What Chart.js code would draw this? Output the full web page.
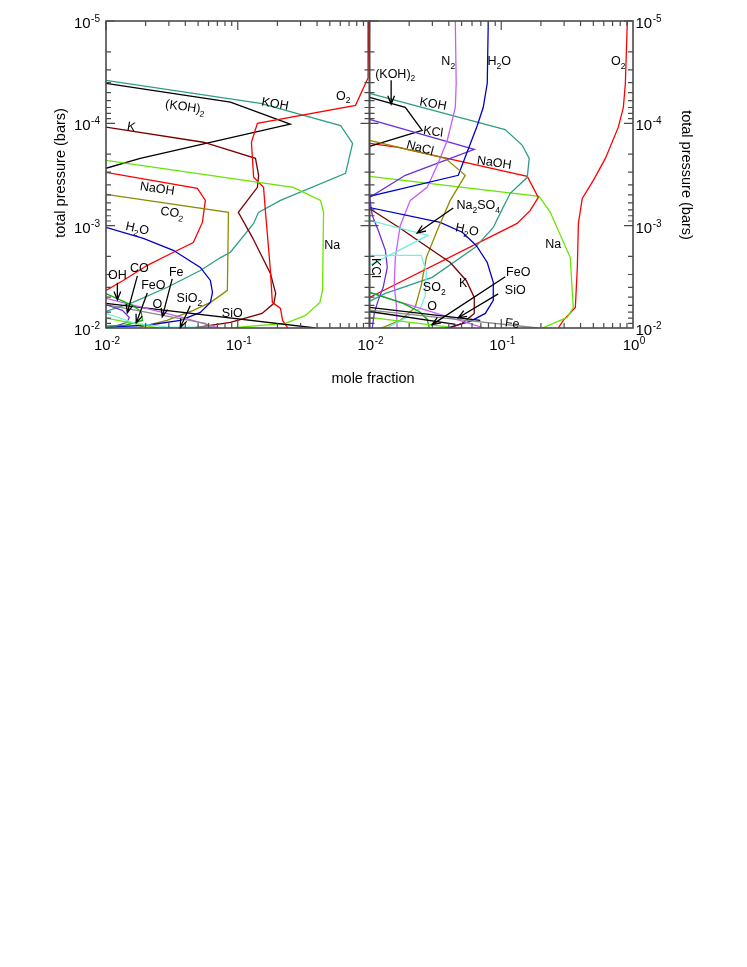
<!DOCTYPE html>
<html>
<head>
<meta charset="utf-8">
<script src="https://cdn.jsdelivr.net/npm/chart.js@4.4.1/dist/chart.umd.min.js"></script>
<style>
html,body{margin:0;padding:0;background:#fff;}
#wrap{position:relative;width:747px;height:967px;background:#fff;}
canvas{position:absolute;left:0;top:0;}
</style>
</head>
<body>
<div id="wrap">
<canvas id="cL" width="747" height="400" style="width:747px;height:400px"></canvas>
<canvas id="cR" width="747" height="400" style="width:747px;height:400px"></canvas>
</div>
<script>
// ---------- axis ranges / tick labels ----------
const X_RANGE = [0.01, 1];
const P_RANGE = [1e-5, 1e-2];
const X_TICK_EXP_LEFT = [-2, -1];
const X_TICK_EXP_RIGHT = [-2, -1, 0];
const Y_TICK_EXP = [-5, -4, -3, -2];
const X_TITLE = 'mole fraction';
const Y_TITLE = 'total pressure (bars)';

// ---------- LEFT PANEL series: [mole fraction, pressure (bars)] ----------
const L_KOH  = [[0.01,3.8e-5],[0.149,6.37e-5],[0.603,1.05e-4],[0.744,1.57e-4],[0.658,3.08e-4],[0.211,5.66e-4],[0.1437,7.41e-4],[0.132,9.5e-4],[0.088,1.82e-3],[0.074,2.05e-3],[0.052,2.74e-3],[0.0292,4.0e-3],[0.016,5.62e-3],[0.01,6.9e-3]];
const L_KOH2 = [[0.01,4.06e-5],[0.088,6.2e-5],[0.25,1.02e-4],[0.0182,2.2e-4],[0.01,2.75e-4]];
const L_K    = [[0.01,1.09e-4],[0.0549,1.53e-4],[0.1363,2.2e-4],[0.144,3.22e-4],[0.141,4.22e-4],[0.101,7.41e-4],[0.129,1.3e-3],[0.177,2.93e-3],[0.194,4.59e-3],[0.188,5.74e-3],[0.153,7.2e-3],[0.088,8.81e-3],[0.046,1e-2]];
const L_O2   = [[0.986,1e-5],[0.975,3.6e-5],[0.783,6.67e-5],[0.141,1.0e-4],[0.127,1.53e-4],[0.132,3.37e-4],[0.157,4.22e-4],[0.162,7.09e-4],[0.177,2.74e-3],[0.183,5.62e-3],[0.211,6.43e-3],[0.219,8.43e-3],[0.24,1e-2]];
const L_NA   = [[0.01,2.3e-4],[0.265,4.22e-4],[0.425,5.66e-4],[0.448,7.41e-4],[0.44,4.29e-3],[0.42,5.62e-3],[0.327,7.54e-3],[0.23,9.0e-3],[0.088,1e-2]];
const L_NAOH = [[0.01,3.01e-4],[0.0494,4.32e-4],[0.0568,5.66e-4],[0.0539,9.3e-4],[0.046,1.46e-3],[0.0325,1.82e-3],[0.0206,2.44e-3],[0.0135,3.43e-3],[0.01,4.29e-3]];
const L_CO2  = [[0.01,4.94e-4],[0.085,7.41e-4],[0.0834,4.29e-3],[0.074,4.8e-3],[0.062,5.62e-3],[0.046,6.73e-3],[0.029,8.43e-3],[0.018,9.8e-3]];
const L_H2O  = [[0.01,1.04e-3],[0.0192,1.33e-3],[0.0324,1.74e-3],[0.052,2.56e-3],[0.062,3.43e-3],[0.0643,4.49e-3],[0.062,5.62e-3],[0.052,7.05e-3],[0.0367,8.43e-3],[0.0206,9.4e-3],[0.01,9.8e-3]];
const L_SIO  = [[0.01,5.74e-3],[0.388,1e-2]];
const L_OH   = [[0.01,4.6e-3],[0.0158,6.0e-3],[0.0185,6.9e-3],[0.0189,8.43e-3],[0.014,9.4e-3],[0.01,9.6e-3]];
const L_CO   = [[0.01,5.9e-3],[0.0133,6.73e-3],[0.015,7.88e-3],[0.0145,8.8e-3],[0.0112,9.8e-3],[0.01,1e-2]];
const L_FE   = [[0.01,5.14e-3],[0.0379,7.88e-3],[0.0724,1e-2]];
const L_SIO2 = [[0.01,7.2e-3],[0.0167,9.0e-3],[0.0302,9.8e-3],[0.0566,9.8e-3],[0.062,1e-2]];
const L_FEO  = [[0.01,5.9e-3],[0.0566,9.0e-3],[0.065,1e-2]];
const L_O    = [[0.01,8.0e-3],[0.02,9.5e-3],[0.025,1e-2]];

// ---------- RIGHT PANEL series ----------
const R_O2    = [[0.906,1e-5],[0.875,4.06e-5],[0.845,6.97e-5],[0.774,1.09e-4],[0.617,2.2e-4],[0.5,3.61e-4],[0.412,5.41e-4],[0.385,9.5e-4],[0.378,2.56e-3],[0.365,6.3e-3],[0.2955,8.43e-3],[0.271,1e-2]];
const R_NA    = [[0.01,3.3e-4],[0.194,5.17e-4],[0.2356,7.41e-4],[0.334,2.05e-3],[0.352,6.3e-3],[0.317,7.88e-3],[0.2047,1e-2]];
const R_NAOH  = [[0.01,1.57e-4],[0.0165,1.72e-4],[0.1575,3.3e-4],[0.191,5.3e-4],[0.166,7.09e-4],[0.132,9.5e-4],[0.01,5.03e-3]];
const R_KOH   = [[0.01,5.09e-5],[0.107,1.15e-4],[0.144,1.63e-4],[0.163,2.2e-4],[0.1575,3.37e-4],[0.117,4.83e-4],[0.098,7.59e-4],[0.087,1.04e-3],[0.0635,1.63e-3],[0.0299,3.2e-3],[0.0132,4.59e-3],[0.01,5.5e-3]];
const R_KOH2  = [[0.01,5.57e-5],[0.0187,6.97e-5],[0.0251,1.17e-4],[0.01,1.68e-4]];
const R_KCL   = [[0.01,9.14e-5],[0.0624,1.8e-4],[0.0187,3.22e-4],[0.01,5.3e-4],[0.0105,7.94e-4],[0.01164,1.11e-3],[0.0132,1.74e-3],[0.01365,2.56e-3],[0.0127,4.0e-3],[0.01164,5.37e-3],[0.01086,7.2e-3],[0.0105,1e-2]];
const R_N2    = [[0.0448,1e-5],[0.0455,4.06e-5],[0.0448,6.97e-5],[0.0389,1.47e-4],[0.0332,2.46e-4],[0.0274,4.22e-4],[0.0204,5.66e-4],[0.0171,1e-3],[0.0157,2.05e-3],[0.0154,3.83e-3],[0.016,6.0e-3],[0.0162,1e-2]];
const R_H2O   = [[0.0797,1e-5],[0.0783,4.06e-5],[0.073,6.97e-5],[0.0658,1.05e-4],[0.0472,3.22e-4],[0.01,5.17e-4],[0.01,6.65e-4],[0.0344,9.3e-4],[0.0506,1.16e-3],[0.0646,1.56e-3],[0.0783,2.29e-3],[0.087,3.58e-3],[0.087,5.37e-3],[0.0757,7.2e-3],[0.0582,8.6e-3],[0.041,9.8e-3],[0.0376,1e-2]];
const R_NACL  = [[0.01,1.47e-4],[0.0376,2.2e-4],[0.0533,3.22e-4],[0.041,5.66e-4],[0.0327,1.11e-3],[0.027,2.05e-3],[0.0247,3.83e-3],[0.0222,6.3e-3],[0.0171,8.43e-3],[0.01227,1e-2]];
const R_NA2SO4= [[0.01,8.88e-4],[0.0279,1.245e-3],[0.01,2.44e-3]];
const R_SO2   = [[0.01,1.95e-3],[0.0247,1.95e-3],[0.027,2.86e-3],[0.0265,4.8e-3],[0.0243,6.43e-3],[0.0174,8.43e-3],[0.0134,1e-2]];
const R_K     = [[0.01,6.8e-4],[0.0171,1.06e-3],[0.0265,1.56e-3],[0.041,2.29e-3],[0.0542,3.43e-3],[0.0624,5.03e-3],[0.0624,7.2e-3],[0.0506,9.0e-3],[0.0403,1e-2]];
const R_OX    = [[0.01,4.5e-3],[0.0743,1e-2]];
const R_O     = [[0.01,4.45e-3],[0.018,5.74e-3],[0.0238,6.9e-3],[0.0274,8.2e-3],[0.0284,1e-2]];
const R_SIO   = [[0.01,6.3e-3],[0.0693,8.43e-3]];
const R_FEO   = [[0.01,6.9e-3],[0.045,9.2e-3]];
const R_FE    = [[0.01,6.7e-3],[0.19,1e-2]];
const R_LOW   = [[0.01,7.88e-3],[0.0403,9.8e-3]];

// ---------- in-plot labels and arrows (data coordinates) ----------
const L_LABELS = [
  {t:'(KOH)_2', x:0.04, y:6.8e-5, r:8},
  {t:'KOH', x:0.1925, y:6.35e-5, r:10},
  {t:'O_2', x:0.631, y:5.31e-5, r:0},
  {t:'K', x:0.01556, y:1.065e-4, r:10},
  {t:'NaOH', x:0.0245, y:4.29e-4, r:8},
  {t:'CO_2', x:0.0318, y:7.35e-4, r:8},
  {t:'H_2O', x:0.0173, y:1.05e-3, r:12},
  {t:'Na', x:0.521, y:1.54e-3, r:0},
  {t:'OH', x:0.0122, y:3.03e-3, r:0},
  {t:'CO', x:0.0179, y:2.59e-3, r:0},
  {t:'FeO', x:0.02286, y:3.79e-3, r:0},
  {t:'Fe', x:0.03415, y:2.83e-3, r:0},
  {t:'O', x:0.0245, y:5.81e-3, r:0},
  {t:'SiO_2', x:0.0429, y:5.08e-3, r:0},
  {t:'SiO', x:0.0908, y:7.11e-3, r:0}
];
const L_ARROWS = [
  [[0.0122,3.62e-3],[0.0122,5.31e-3]],
  [[0.0173,3.1e-3],[0.01451,7.11e-3]],
  [[0.02058,4.54e-3],[0.01698,8.9e-3]],
  [[0.0318,3.31e-3],[0.02675,7.78e-3]],
  [[0.0436,6.07e-3],[0.0366,9.9e-3]]
];
const R_LABELS = [
  {t:'N_2', x:0.0396, y:2.42e-5, r:0},
  {t:'H_2O', x:0.0966, y:2.42e-5, r:0},
  {t:'O_2', x:0.773, y:2.42e-5, r:0},
  {t:'(KOH)_2', x:0.01567, y:3.24e-5, r:0},
  {t:'KOH', x:0.03046, y:6.35e-5, r:10},
  {t:'KCl', x:0.03046, y:1.19e-4, r:8},
  {t:'NaCl', x:0.02427, y:1.71e-4, r:15},
  {t:'NaOH', x:0.0885, y:2.39e-4, r:8},
  {t:'Na_2SO_4', x:0.0669, y:6.28e-4, r:0},
  {t:'H_2O', x:0.0552, y:1.08e-3, r:12},
  {t:'Na', x:0.248, y:1.51e-3, r:0},
  {t:'KCl', x:0.01124, y:2.59e-3, r:90},
  {t:'SO_2', x:0.031, y:3.96e-3, r:0},
  {t:'K', x:0.0514, y:3.62e-3, r:0},
  {t:'O', x:0.0299, y:6.07e-3, r:0},
  {t:'FeO', x:0.1346, y:2.83e-3, r:0},
  {t:'SiO', x:0.1277, y:4.24e-3, r:0},
  {t:'Fe', x:0.1212, y:8.9e-3, r:8}
];
const R_ARROWS = [
  [[0.0146,3.79e-5],[0.0146,6.5e-5]],
  [[0.0432,6.72e-4],[0.02302,1.18e-3]],
  [[0.1073,3.16e-3],[0.0299,9.27e-3]],
  [[0.0948,4.64e-3],[0.0472,7.95e-3]]
];

// ---------- styling ----------
const FONT = '"Liberation Sans", Arial, Helvetica, sans-serif';
const C = {red:'#ff0000', teal:'#2e9e86', black:'#000000', maroon:'#7a0000', lime:'#66e600',
  olive:'#8c8c00', blue:'#0000cc', violet:'#6a2de0', magenta:'#c95cff', cyan:'#70f0e0',
  green:'#00b400', gray:'#8a8a8a'};
const FRAME = '#4a4a4a';

function ds(label, pts, color){
  return {label, data: pts.map(p => ({x:p[0], y:p[1]})), borderColor: color, backgroundColor: color,
    borderWidth: 1.3, pointRadius: 0, pointHoverRadius: 0, showLine: true, fill: false, tension: 0};
}

function drawRich(ctx, text, x, y, size, rot){
  const segs = [];
  let i = 0;
  while (i < text.length){
    if (text[i] === '_'){ segs.push({t:text[i+1], sub:true}); i += 2; }
    else { let j = i; while (j < text.length && text[j] !== '_') j++; segs.push({t:text.slice(i,j), sub:false}); i = j; }
  }
  const sub = size * 0.68;
  let w = 0;
  segs.forEach(s => { ctx.font = (s.sub ? sub : size) + 'px ' + FONT; s.w = ctx.measureText(s.t).width; w += s.w; });
  ctx.save();
  ctx.translate(x, y);
  ctx.rotate((rot || 0) * Math.PI / 180);
  ctx.fillStyle = '#000';
  ctx.textBaseline = 'alphabetic';
  ctx.textAlign = 'left';
  let cx = -w / 2;
  const base = size * 0.36;
  segs.forEach(s => {
    ctx.font = (s.sub ? sub : size) + 'px ' + FONT;
    ctx.fillText(s.t, cx, s.sub ? base + size * 0.3 : base);
    cx += s.w;
  });
  ctx.restore();
}

// "10" with a raised exponent; align: 'left' | 'right' | 'center'
function drawPow(ctx, exp, x, baseY, align){
  const big = '15px ' + FONT, small = '10px ' + FONT;
  ctx.font = big; const w1 = ctx.measureText('10').width;
  ctx.font = small; const w2 = ctx.measureText(String(exp)).width;
  const w = w1 + 0.5 + w2;
  let x0 = align === 'right' ? x - w : (align === 'center' ? x - w / 2 : x);
  ctx.textAlign = 'left'; ctx.textBaseline = 'alphabetic'; ctx.fillStyle = '#000';
  ctx.font = big; ctx.fillText('10', x0, baseY);
  ctx.font = small; ctx.fillText(String(exp), x0 + w1 + 0.5, baseY - 6);
}

function drawArrow(ctx, x1, y1, x2, y2){
  const a = Math.atan2(y2 - y1, x2 - x1), L = 9, h = 0.38;
  ctx.beginPath();
  ctx.moveTo(x1, y1); ctx.lineTo(x2, y2);
  ctx.moveTo(x2 - L * Math.cos(a - h), y2 - L * Math.sin(a - h));
  ctx.lineTo(x2, y2);
  ctx.lineTo(x2 - L * Math.cos(a + h), y2 - L * Math.sin(a + h));
  ctx.stroke();
}

function panelPlugin(cfg){
  return {
    id: 'panelDecor',
    afterDatasetsDraw(chart){
      const {ctx, chartArea: a, scales: {x, y}} = chart;
      ctx.save();
      // inward ticks
      ctx.strokeStyle = FRAME; ctx.lineWidth = 1.2;
      ctx.beginPath();
      for (let e = -2; e < 0; e++){
        for (let m = 1; m <= 9; m++){
          const px = x.getPixelForValue(m * Math.pow(10, e));
          const len = (m === 1) ? 9 : 5;
          ctx.moveTo(px, a.bottom); ctx.lineTo(px, a.bottom - len);
          ctx.moveTo(px, a.top); ctx.lineTo(px, a.top + len);
        }
      }
      for (let e = -5; e < -2; e++){
        for (let m = 1; m <= 9; m++){
          const py = y.getPixelForValue(m * Math.pow(10, e));
          const len = (m === 1) ? 9 : 5;
          ctx.moveTo(a.left, py); ctx.lineTo(a.left + len, py);
          ctx.moveTo(a.right, py); ctx.lineTo(a.right - len, py);
        }
      }
      ctx.stroke();
      ctx.lineWidth = 1.6;
      ctx.strokeRect(a.left, a.top, a.right - a.left, a.bottom - a.top);
      // tick labels
      cfg.xExp.forEach(e => drawPow(ctx, e, x.getPixelForValue(Math.pow(10, e)) + 1, a.bottom + 22, 'center'));
      cfg.yExp.forEach(e => {
        const py = y.getPixelForValue(Math.pow(10, e)) + 7;
        if (cfg.yPos === 'left') drawPow(ctx, e, a.left - 6, py, 'right');
        else drawPow(ctx, e, a.right + 2.5, py, 'left');
      });
      // arrows
      ctx.strokeStyle = '#000'; ctx.lineWidth = 1.3;
      cfg.arrows.forEach(ar => drawArrow(ctx,
        x.getPixelForValue(ar[0][0]), y.getPixelForValue(ar[0][1]),
        x.getPixelForValue(ar[1][0]), y.getPixelForValue(ar[1][1])));
      // labels
      cfg.labels.forEach(l => drawRich(ctx, l.t, x.getPixelForValue(l.x), y.getPixelForValue(l.y), 12.5, l.r));
      ctx.restore();
      if (cfg.extra) cfg.extra(chart);
    }
  };
}

function xScale(){
  return {
    type: 'logarithmic', position: 'bottom', min: X_RANGE[0], max: X_RANGE[1],
    grid: {display: false, drawTicks: false}, border: {display: false},
    ticks: {display: false},
    afterFit: (s) => { s.height = 40; }
  };
}
function yScale(pos, w){
  return {
    type: 'logarithmic', position: pos, min: P_RANGE[0], max: P_RANGE[1], reverse: true,
    grid: {display: false, drawTicks: false}, border: {display: false},
    ticks: {display: false},
    afterFit: (s) => { s.width = w; }
  };
}

function titleText(ctx, text, x, y, rot){
  ctx.save();
  ctx.translate(x, y); ctx.rotate(rot);
  ctx.font = '14.5px ' + FONT; ctx.fillStyle = '#000';
  ctx.textAlign = 'center'; ctx.textBaseline = 'middle';
  ctx.fillText(text, 0, 0);
  ctx.restore();
}

const leftDatasets = [
  ds('FeO', L_FEO, C.gray), ds('SiO2', L_SIO2, C.cyan), ds('O', L_O, C.lime), ds('OH', L_OH, C.green),
  ds('Fe', L_FE, C.magenta), ds('CO', L_CO, C.violet), ds('SiO', L_SIO, C.black),
  ds('H2O', L_H2O, C.blue), ds('CO2', L_CO2, C.olive), ds('NaOH', L_NAOH, C.red), ds('Na', L_NA, C.lime),
  ds('O2', L_O2, C.red), ds('K', L_K, C.maroon), ds('(KOH)2', L_KOH2, C.black), ds('KOH', L_KOH, C.teal)
];
const rightDatasets = [
  ds('Fe', R_FE, C.gray), ds('lower', R_LOW, C.lime), ds('FeO', R_FEO, C.black), ds('SiO', R_SIO, C.black),
  ds('O', R_O, C.green), ds('Ox', R_OX, C.magenta), ds('SO2', R_SO2, C.cyan), ds('Na2SO4', R_NA2SO4, C.cyan),
  ds('K', R_K, C.maroon), ds('NaCl', R_NACL, C.olive), ds('H2O', R_H2O, C.blue), ds('N2', R_N2, C.magenta),
  ds('KCl', R_KCL, C.violet), ds('(KOH)2', R_KOH2, C.black), ds('KOH', R_KOH, C.teal),
  ds('NaOH', R_NAOH, C.red), ds('Na', R_NA, C.lime), ds('O2', R_O2, C.red)
];

const common = {
  responsive: false, animation: false, events: [],
  plugins: {legend: {display: false}, tooltip: {enabled: false}}
};

new Chart(document.getElementById('cL'), {
  type: 'scatter',
  data: {datasets: leftDatasets},
  options: Object.assign({}, common, {
    layout: {padding: {left: 0, right: 377.5, top: 21, bottom: 32}},
    scales: {x: xScale(), y: yScale('left', 106)}
  }),
  plugins: [panelPlugin({labels: L_LABELS, arrows: L_ARROWS, xExp: X_TICK_EXP_LEFT, yExp: Y_TICK_EXP, yPos: 'left',
    extra: (chart) => {
      titleText(chart.ctx, Y_TITLE, 61, 173, -Math.PI / 2);
      titleText(chart.ctx, X_TITLE, 373, 379, 0);
    }})]
});

new Chart(document.getElementById('cR'), {
  type: 'scatter',
  data: {datasets: rightDatasets},
  options: Object.assign({}, common, {
    layout: {padding: {left: 369.5, right: 0, top: 21, bottom: 32}},
    scales: {x: xScale(), y: yScale('right', 114)}
  }),
  plugins: [panelPlugin({labels: R_LABELS, arrows: R_ARROWS, xExp: X_TICK_EXP_RIGHT, yExp: Y_TICK_EXP, yPos: 'right',
    extra: (chart) => {
      titleText(chart.ctx, Y_TITLE, 686, 175, Math.PI / 2);
    }})]
});
</script>
</body>
</html>
